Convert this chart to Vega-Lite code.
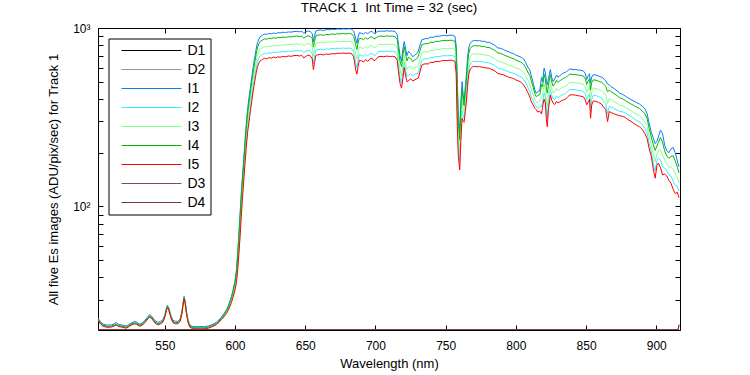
{
"$schema": "https://vega.github.io/schema/vega-lite/v6.json",
"width": 582, "height": 302,
"autosize": {"type": "none"},
"padding": {"left": 98, "top": 28, "right": 70, "bottom": 45},
"background": "white",
"title": {"text": "TRACK 1 \u00a0Int Time = 32 (sec)", "fontSize": 13.5, "font": "Liberation Sans", "fontWeight": "normal", "offset": 8, "color": "black"},
"layer": [
{
"data": {"values": [
{"w":502.4,"I1":23.7,"I2":23.1,"I3":23.2,"I4":23.3,"I5":23.0},
{"w":504,"I1":22.7,"I2":22.1,"I3":22.2,"I4":22.3,"I5":22.0},
{"w":506,"I1":21.9,"I2":21.4,"I3":21.5,"I4":21.6,"I5":21.3},
{"w":509,"I1":21.6,"I2":21.1,"I3":21.2,"I4":21.3,"I5":21.0},
{"w":512,"I1":21.7,"I2":21.2,"I3":21.3,"I4":21.4,"I5":21.1},
{"w":514,"I1":22.0,"I2":21.5,"I3":21.6,"I4":21.7,"I5":21.4},
{"w":515.5,"I1":22.4,"I2":21.7,"I3":21.8,"I4":21.9,"I5":21.6},
{"w":517,"I1":21.8,"I2":21.3,"I3":21.4,"I4":21.5,"I5":21.2},
{"w":519,"I1":21.7,"I2":21.2,"I3":21.3,"I4":21.4,"I5":21.1},
{"w":521,"I1":21.5,"I2":21.0,"I3":21.1,"I4":21.2,"I5":20.9},
{"w":522.6,"I1":21.4,"I2":20.9,"I3":21.0,"I4":21.1,"I5":20.8},
{"w":524.5,"I1":21.8,"I2":21.3,"I3":21.4,"I4":21.5,"I5":21.2},
{"w":526,"I1":22.2,"I2":21.7,"I3":21.8,"I4":21.9,"I5":21.6},
{"w":528.5,"I1":22.7,"I2":22.1,"I3":22.2,"I4":22.3,"I5":22.0},
{"w":530,"I1":22.4,"I2":21.9,"I3":22.0,"I4":22.1,"I5":21.8},
{"w":532,"I1":21.9,"I2":21.4,"I3":21.5,"I4":21.6,"I5":21.3},
{"w":534,"I1":22.2,"I2":21.7,"I3":21.8,"I4":21.9,"I5":21.6},
{"w":535.7,"I1":23.0,"I2":22.4,"I3":22.5,"I4":22.6,"I5":22.3},
{"w":537.5,"I1":23.9,"I2":23.3,"I3":23.4,"I4":23.5,"I5":23.2},
{"w":539.2,"I1":24.8,"I2":24.1,"I3":24.2,"I4":24.4,"I5":24.0},
{"w":540.5,"I1":24.3,"I2":23.7,"I3":23.8,"I4":24.0,"I5":23.6},
{"w":541.6,"I1":23.7,"I2":23.1,"I3":23.2,"I4":23.3,"I5":23.0},
{"w":543,"I1":22.9,"I2":22.3,"I3":22.4,"I4":22.5,"I5":22.2},
{"w":545,"I1":22.4,"I2":21.8,"I3":21.9,"I4":22.0,"I5":21.7},
{"w":547,"I1":22.7,"I2":22.1,"I3":22.2,"I4":22.3,"I5":22.0},
{"w":548.7,"I1":23.2,"I2":22.6,"I3":22.7,"I4":22.8,"I5":22.5},
{"w":550,"I1":24.7,"I2":24.1,"I3":24.2,"I4":24.4,"I5":24.0},
{"w":551.2,"I1":27.0,"I2":26.3,"I3":26.5,"I4":26.6,"I5":26.2},
{"w":551.8,"I1":27.9,"I2":27.2,"I3":27.4,"I4":27.5,"I5":27.1},
{"w":552.6,"I1":27.3,"I2":26.6,"I3":26.8,"I4":26.9,"I5":26.5},
{"w":553.5,"I1":25.9,"I2":25.2,"I3":25.4,"I4":25.5,"I5":25.1},
{"w":554.5,"I1":24.2,"I2":23.6,"I3":23.7,"I4":23.9,"I5":23.5},
{"w":555.8,"I1":23.0,"I2":22.4,"I3":22.5,"I4":22.6,"I5":22.3},
{"w":557.5,"I1":22.7,"I2":22.1,"I3":22.2,"I4":22.3,"I5":22.0},
{"w":559.4,"I1":22.7,"I2":22.1,"I3":22.2,"I4":22.3,"I5":22.0},
{"w":561,"I1":23.5,"I2":22.9,"I3":23.0,"I4":23.1,"I5":22.8},
{"w":562.2,"I1":25.9,"I2":25.2,"I3":25.4,"I4":25.5,"I5":25.1},
{"w":563,"I1":28.8,"I2":28.1,"I3":28.3,"I4":28.4,"I5":28.0},
{"w":563.7,"I1":31.3,"I2":30.6,"I3":30.7,"I4":30.9,"I5":30.4},
{"w":564.5,"I1":29.4,"I2":28.6,"I3":28.8,"I4":28.9,"I5":28.5},
{"w":565.4,"I1":25.9,"I2":25.2,"I3":25.4,"I4":25.5,"I5":25.1},
{"w":566.5,"I1":23.2,"I2":22.6,"I3":22.7,"I4":22.8,"I5":22.5},
{"w":567.7,"I1":21.7,"I2":21.2,"I3":21.3,"I4":21.4,"I5":21.1},
{"w":569.5,"I1":21.3,"I2":20.8,"I3":20.9,"I4":21.0,"I5":20.7},
{"w":571.3,"I1":21.2,"I2":20.7,"I3":20.8,"I4":20.9,"I5":20.6},
{"w":575,"I1":21.2,"I2":20.7,"I3":20.8,"I4":20.9,"I5":20.6},
{"w":578.4,"I1":21.2,"I2":20.7,"I3":20.8,"I4":20.9,"I5":20.6},
{"w":581,"I1":21.4,"I2":20.9,"I3":21.0,"I4":21.1,"I5":20.8},
{"w":583.2,"I1":21.7,"I2":21.2,"I3":21.3,"I4":21.4,"I5":21.1},
{"w":585,"I1":22.0,"I2":21.5,"I3":21.6,"I4":21.7,"I5":21.4},
{"w":586.7,"I1":22.5,"I2":21.9,"I3":22.0,"I4":22.1,"I5":21.8},
{"w":588.5,"I1":23.1,"I2":22.5,"I3":22.6,"I4":22.7,"I5":22.4},
{"w":590.3,"I1":24.0,"I2":23.4,"I3":23.5,"I4":23.6,"I5":23.2},
{"w":592,"I1":25.0,"I2":24.3,"I3":24.5,"I4":24.6,"I5":24.0},
{"w":593.9,"I1":26.4,"I2":25.5,"I3":25.8,"I4":26.0,"I5":25.1},
{"w":595,"I1":27.6,"I2":26.5,"I3":26.9,"I4":27.1,"I5":26.0},
{"w":596.2,"I1":29.2,"I2":27.9,"I3":28.4,"I4":28.7,"I5":27.3},
{"w":597.5,"I1":31.4,"I2":29.7,"I3":30.3,"I4":30.8,"I5":29.0},
{"w":598.6,"I1":34.0,"I2":31.8,"I3":32.6,"I4":33.3,"I5":31.0},
{"w":600,"I1":38.5,"I2":34.8,"I3":36.1,"I4":37.5,"I5":34.0},
{"w":601,"I1":44,"I2":38.7,"I3":40.5,"I4":42.6,"I5":37.5},
{"w":602,"I1":57,"I2":47.1,"I3":50.4,"I4":54.4,"I5":45},
{"w":602.8,"I1":72,"I2":58,"I3":62.6,"I4":68.3,"I5":55},
{"w":603.6,"I1":92,"I2":72.2,"I3":78.7,"I4":86.6,"I5":68},
{"w":604.4,"I1":118,"I2":92.5,"I3":101,"I4":111,"I5":87},
{"w":605.2,"I1":145,"I2":115,"I3":124,"I4":137,"I5":108},
{"w":606,"I1":175,"I2":140,"I3":151,"I4":165,"I5":132},
{"w":607,"I1":228,"I2":180,"I3":196,"I4":215,"I5":170},
{"w":608,"I1":290,"I2":228,"I3":248,"I4":273,"I5":215},
{"w":609,"I1":355,"I2":278,"I3":303,"I4":334,"I5":262},
{"w":610,"I1":410,"I2":320,"I3":349,"I4":385,"I5":300},
{"w":611,"I1":470,"I2":367,"I3":400,"I4":442,"I5":345},
{"w":612,"I1":535,"I2":418,"I3":455,"I4":503,"I5":393},
{"w":613,"I1":610,"I2":476,"I3":519,"I4":573,"I5":447},
{"w":614,"I1":680,"I2":531,"I3":578,"I4":639,"I5":500},
{"w":615,"I1":760,"I2":593,"I3":646,"I4":714,"I5":557},
{"w":616,"I1":830,"I2":648,"I3":706,"I4":780,"I5":608},
{"w":617,"I1":868,"I2":678,"I3":738,"I4":816,"I5":636},
{"w":618,"I1":895,"I2":699,"I3":761,"I4":841,"I5":656},
{"w":619.5,"I1":910,"I2":710,"I3":774,"I4":855,"I5":667},
{"w":621,"I1":925,"I2":722,"I3":787,"I4":870,"I5":676},
{"w":622.5,"I1":920,"I2":718,"I3":783,"I4":865,"I5":672},
{"w":624,"I1":932,"I2":727,"I3":793,"I4":876,"I5":682},
{"w":626,"I1":928,"I2":724,"I3":790,"I4":872,"I5":678},
{"w":627.5,"I1":938,"I2":732,"I3":798,"I4":882,"I5":688},
{"w":629,"I1":930,"I2":725,"I3":791,"I4":874,"I5":680},
{"w":630.5,"I1":942,"I2":735,"I3":802,"I4":885,"I5":690},
{"w":632,"I1":938,"I2":732,"I3":798,"I4":882,"I5":686},
{"w":634,"I1":946,"I2":738,"I3":805,"I4":889,"I5":692},
{"w":636,"I1":944,"I2":736,"I3":803,"I4":887,"I5":690},
{"w":638,"I1":950,"I2":741,"I3":808,"I4":893,"I5":697},
{"w":640,"I1":948,"I2":739,"I3":807,"I4":891,"I5":694},
{"w":642,"I1":955,"I2":745,"I3":813,"I4":898,"I5":700},
{"w":644,"I1":958,"I2":747,"I3":815,"I4":901,"I5":702},
{"w":646,"I1":952,"I2":743,"I3":810,"I4":895,"I5":697},
{"w":647.5,"I1":958,"I2":747,"I3":815,"I4":901,"I5":702},
{"w":649,"I1":935,"I2":728,"I3":795,"I4":878,"I5":680},
{"w":650.3,"I1":950,"I2":741,"I3":808,"I4":893,"I5":692},
{"w":652,"I1":962,"I2":750,"I3":819,"I4":904,"I5":705},
{"w":653.5,"I1":955,"I2":745,"I3":813,"I4":898,"I5":700},
{"w":655,"I1":930,"I2":715,"I3":784,"I4":871,"I5":670},
{"w":655.8,"I1":840,"I2":629,"I3":696,"I4":781,"I5":585},
{"w":656.6,"I1":900,"I2":685,"I3":754,"I4":841,"I5":640},
{"w":657.5,"I1":962,"I2":750,"I3":819,"I4":904,"I5":700},
{"w":659,"I1":970,"I2":757,"I3":825,"I4":912,"I5":708},
{"w":661,"I1":975,"I2":761,"I3":830,"I4":917,"I5":712},
{"w":663,"I1":968,"I2":755,"I3":824,"I4":910,"I5":706},
{"w":665,"I1":980,"I2":764,"I3":834,"I4":921,"I5":715},
{"w":667,"I1":976,"I2":761,"I3":831,"I4":917,"I5":712},
{"w":669,"I1":985,"I2":768,"I3":838,"I4":926,"I5":718},
{"w":671,"I1":980,"I2":764,"I3":834,"I4":921,"I5":716},
{"w":673,"I1":988,"I2":771,"I3":841,"I4":929,"I5":722},
{"w":675,"I1":985,"I2":768,"I3":838,"I4":926,"I5":720},
{"w":677,"I1":990,"I2":772,"I3":842,"I4":931,"I5":724},
{"w":679,"I1":986,"I2":769,"I3":839,"I4":927,"I5":720},
{"w":681,"I1":990,"I2":772,"I3":842,"I4":931,"I5":724},
{"w":683,"I1":985,"I2":768,"I3":838,"I4":926,"I5":718},
{"w":684.5,"I1":960,"I2":737,"I3":808,"I4":899,"I5":690},
{"w":686,"I1":870,"I2":629,"I3":705,"I4":802,"I5":580},
{"w":686.8,"I1":820,"I2":598,"I3":667,"I4":758,"I5":552},
{"w":687.5,"I1":880,"I2":648,"I3":721,"I4":815,"I5":600},
{"w":688.5,"I1":940,"I2":708,"I3":782,"I4":876,"I5":660},
{"w":690,"I1":935,"I2":703,"I3":777,"I4":871,"I5":655},
{"w":691.5,"I1":925,"I2":694,"I3":767,"I4":861,"I5":645},
{"w":693,"I1":945,"I2":712,"I3":787,"I4":881,"I5":665},
{"w":694.5,"I1":930,"I2":698,"I3":772,"I4":866,"I5":650},
{"w":696,"I1":950,"I2":716,"I3":791,"I4":886,"I5":670},
{"w":697.5,"I1":958,"I2":722,"I3":798,"I4":894,"I5":678},
{"w":699,"I1":930,"I2":700,"I3":774,"I4":867,"I5":655},
{"w":700.5,"I1":945,"I2":712,"I3":787,"I4":881,"I5":668},
{"w":702,"I1":958,"I2":737,"I3":808,"I4":897,"I5":690},
{"w":704,"I1":962,"I2":740,"I3":811,"I4":901,"I5":693},
{"w":706,"I1":958,"I2":737,"I3":808,"I4":897,"I5":690},
{"w":708,"I1":965,"I2":743,"I3":813,"I4":904,"I5":696},
{"w":710,"I1":960,"I2":739,"I3":809,"I4":899,"I5":692},
{"w":712,"I1":962,"I2":740,"I3":811,"I4":901,"I5":694},
{"w":714,"I1":955,"I2":736,"I3":806,"I4":894,"I5":690},
{"w":715.5,"I1":920,"I2":705,"I3":774,"I4":861,"I5":660},
{"w":716.5,"I1":800,"I2":601,"I3":665,"I4":745,"I5":560},
{"w":717.5,"I1":700,"I2":526,"I3":581,"I4":652,"I5":490},
{"w":718.6,"I1":650,"I2":492,"I3":541,"I4":607,"I5":460},
{"w":719.5,"I1":760,"I2":561,"I3":624,"I4":704,"I5":520},
{"w":720.5,"I1":840,"I2":643,"I3":705,"I4":785,"I5":600},
{"w":721.5,"I1":760,"I2":578,"I3":637,"I4":710,"I5":540},
{"w":722.5,"I1":700,"I2":535,"I3":587,"I4":654,"I5":500},
{"w":723.5,"I1":740,"I2":545,"I3":606,"I4":686,"I5":505},
{"w":725,"I1":720,"I2":554,"I3":607,"I4":674,"I5":520},
{"w":726.5,"I1":690,"I2":538,"I3":587,"I4":649,"I5":505},
{"w":728,"I1":705,"I2":550,"I3":600,"I4":662,"I5":512},
{"w":729.5,"I1":720,"I2":554,"I3":607,"I4":674,"I5":520},
{"w":730.5,"I1":740,"I2":562,"I3":619,"I4":691,"I5":524},
{"w":731.5,"I1":790,"I2":601,"I3":662,"I4":738,"I5":560},
{"w":733,"I1":860,"I2":661,"I3":724,"I4":805,"I5":620},
{"w":734.5,"I1":865,"I2":671,"I3":735,"I4":812,"I5":628},
{"w":736,"I1":875,"I2":673,"I3":737,"I4":819,"I5":630},
{"w":737.5,"I1":870,"I2":669,"I3":733,"I4":815,"I5":628},
{"w":739,"I1":890,"I2":684,"I3":749,"I4":833,"I5":642},
{"w":741,"I1":885,"I2":681,"I3":746,"I4":829,"I5":640},
{"w":743,"I1":900,"I2":692,"I3":759,"I4":843,"I5":650},
{"w":745,"I1":898,"I2":690,"I3":757,"I4":841,"I5":648},
{"w":747,"I1":905,"I2":697,"I3":764,"I4":848,"I5":655},
{"w":749,"I1":910,"I2":700,"I3":767,"I4":852,"I5":658},
{"w":751,"I1":905,"I2":698,"I3":764,"I4":848,"I5":656},
{"w":753,"I1":912,"I2":702,"I3":769,"I4":854,"I5":660},
{"w":755,"I1":910,"I2":700,"I3":767,"I4":852,"I5":658},
{"w":756.6,"I1":897,"I2":691,"I3":757,"I4":840,"I5":650},
{"w":757.5,"I1":800,"I2":601,"I3":665,"I4":745,"I5":560},
{"w":758.3,"I1":520,"I2":317,"I3":377,"I4":460,"I5":280},
{"w":759,"I1":330,"I2":216,"I3":250,"I4":297,"I5":194},
{"w":760,"I1":262,"I2":177,"I3":203,"I4":237,"I5":160},
{"w":760.8,"I1":380,"I2":254,"I3":293,"I4":344,"I5":230},
{"w":761.7,"I1":500,"I2":343,"I3":391,"I4":455,"I5":312},
{"w":762.5,"I1":420,"I2":321,"I3":353,"I4":393,"I5":300},
{"w":763.1,"I1":387,"I2":312,"I3":337,"I4":367,"I5":296},
{"w":764,"I1":470,"I2":361,"I3":396,"I4":440,"I5":340},
{"w":764.8,"I1":547,"I2":414,"I3":457,"I4":510,"I5":387},
{"w":765.6,"I1":680,"I2":506,"I3":561,"I4":632,"I5":470},
{"w":766.4,"I1":772,"I2":586,"I3":646,"I4":720,"I5":547},
{"w":767.5,"I1":820,"I2":630,"I3":690,"I4":768,"I5":590},
{"w":769,"I1":845,"I2":648,"I3":712,"I4":791,"I5":605},
{"w":770.7,"I1":852,"I2":652,"I3":717,"I4":797,"I5":609},
{"w":772.5,"I1":848,"I2":649,"I3":714,"I4":793,"I5":606},
{"w":774,"I1":850,"I2":651,"I3":715,"I4":795,"I5":608},
{"w":776,"I1":842,"I2":646,"I3":709,"I4":788,"I5":603},
{"w":777.8,"I1":841,"I2":643,"I3":707,"I4":787,"I5":600},
{"w":779.5,"I1":830,"I2":639,"I3":700,"I4":777,"I5":596},
{"w":781,"I1":832,"I2":638,"I3":700,"I4":779,"I5":595},
{"w":783,"I1":815,"I2":627,"I3":687,"I4":763,"I5":585},
{"w":785,"I1":800,"I2":616,"I3":675,"I4":749,"I5":575},
{"w":787.3,"I1":772,"I2":595,"I3":651,"I4":723,"I5":555},
{"w":789,"I1":770,"I2":591,"I3":648,"I4":721,"I5":552},
{"w":791,"I1":758,"I2":585,"I3":639,"I4":710,"I5":547},
{"w":793,"I1":745,"I2":576,"I3":628,"I4":698,"I5":538},
{"w":795,"I1":735,"I2":567,"I3":619,"I4":688,"I5":530},
{"w":796.8,"I1":724,"I2":562,"I3":612,"I4":678,"I5":525},
{"w":798.5,"I1":718,"I2":557,"I3":606,"I4":673,"I5":520},
{"w":800,"I1":705,"I2":548,"I3":598,"I4":661,"I5":512},
{"w":802,"I1":695,"I2":540,"I3":590,"I4":651,"I5":505},
{"w":803.9,"I1":685,"I2":531,"I3":581,"I4":642,"I5":495},
{"w":805.5,"I1":670,"I2":514,"I3":564,"I4":627,"I5":480},
{"w":807,"I1":640,"I2":492,"I3":540,"I4":599,"I5":460},
{"w":808.5,"I1":605,"I2":465,"I3":510,"I4":566,"I5":435},
{"w":810,"I1":580,"I2":438,"I3":484,"I4":540,"I5":410},
{"w":811,"I1":540,"I2":413,"I3":454,"I4":505,"I5":385},
{"w":812.3,"I1":495,"I2":393,"I3":426,"I4":467,"I5":371},
{"w":813.5,"I1":450,"I2":372,"I3":398,"I4":429,"I5":355},
{"w":814.6,"I1":430,"I2":363,"I3":385,"I4":412,"I5":348},
{"w":815.5,"I1":440,"I2":356,"I3":384,"I4":418,"I5":338},
{"w":817,"I1":445,"I2":360,"I3":388,"I4":422,"I5":342},
{"w":818.3,"I1":530,"I2":363,"I3":414,"I4":482,"I5":330},
{"w":819,"I1":500,"I2":384,"I3":421,"I4":468,"I5":360},
{"w":820.1,"I1":596,"I2":433,"I3":484,"I4":550,"I5":400},
{"w":821,"I1":560,"I2":411,"I3":458,"I4":518,"I5":380},
{"w":821.8,"I1":500,"I2":332,"I3":383,"I4":452,"I5":300},
{"w":822.4,"I1":480,"I2":312,"I3":363,"I4":431,"I5":280},
{"w":823.2,"I1":520,"I2":379,"I3":423,"I4":480,"I5":350},
{"w":824.6,"I1":585,"I2":450,"I3":493,"I4":548,"I5":420},
{"w":825.5,"I1":530,"I2":419,"I3":455,"I4":500,"I5":395},
{"w":826.5,"I1":500,"I2":401,"I3":434,"I4":473,"I5":380},
{"w":827.7,"I1":520,"I2":398,"I3":438,"I4":487,"I5":372},
{"w":829,"I1":545,"I2":417,"I3":458,"I4":509,"I5":388},
{"w":830,"I1":530,"I2":407,"I3":446,"I4":496,"I5":380},
{"w":831.2,"I1":540,"I2":413,"I3":454,"I4":505,"I5":385},
{"w":832.5,"I1":550,"I2":420,"I3":462,"I4":514,"I5":392},
{"w":834,"I1":560,"I2":424,"I3":468,"I4":523,"I5":395},
{"w":835.5,"I1":565,"I2":430,"I3":473,"I4":528,"I5":400},
{"w":837,"I1":578,"I2":442,"I3":486,"I4":540,"I5":412},
{"w":838.5,"I1":590,"I2":452,"I3":496,"I4":552,"I5":422},
{"w":840.7,"I1":585,"I2":452,"I3":494,"I4":548,"I5":422},
{"w":842.5,"I1":586,"I2":451,"I3":494,"I4":549,"I5":420},
{"w":844,"I1":582,"I2":448,"I3":490,"I4":545,"I5":418},
{"w":846,"I1":580,"I2":446,"I3":488,"I4":543,"I5":415},
{"w":848,"I1":575,"I2":442,"I3":484,"I4":538,"I5":412},
{"w":849.5,"I1":555,"I2":425,"I3":467,"I4":519,"I5":395},
{"w":850.4,"I1":515,"I2":396,"I3":434,"I4":482,"I5":371},
{"w":851.5,"I1":540,"I2":414,"I3":455,"I4":505,"I5":385},
{"w":852.5,"I1":555,"I2":428,"I3":468,"I4":520,"I5":400},
{"w":853.2,"I1":491,"I2":341,"I3":388,"I4":448,"I5":312},
{"w":854,"I1":530,"I2":398,"I3":441,"I4":494,"I5":370},
{"w":855.1,"I1":547,"I2":419,"I3":460,"I4":512,"I5":390},
{"w":857,"I1":545,"I2":418,"I3":458,"I4":510,"I5":388},
{"w":859,"I1":538,"I2":412,"I3":453,"I4":503,"I5":382},
{"w":861,"I1":530,"I2":405,"I3":446,"I4":496,"I5":375},
{"w":862.2,"I1":524,"I2":392,"I3":437,"I4":488,"I5":363},
{"w":864,"I1":505,"I2":377,"I3":421,"I4":470,"I5":350},
{"w":865.3,"I1":485,"I2":329,"I3":377,"I4":440,"I5":299},
{"w":866.5,"I1":480,"I2":364,"I3":403,"I4":448,"I5":340},
{"w":868,"I1":468,"I2":360,"I3":394,"I4":438,"I5":336},
{"w":870,"I1":458,"I2":354,"I3":386,"I4":429,"I5":330},
{"w":872,"I1":445,"I2":347,"I3":379,"I4":418,"I5":326},
{"w":874,"I1":431,"I2":340,"I3":368,"I4":406,"I5":322},
{"w":876,"I1":425,"I2":339,"I3":366,"I4":401,"I5":320},
{"w":878,"I1":415,"I2":334,"I3":360,"I4":393,"I5":315},
{"w":880,"I1":405,"I2":326,"I3":351,"I4":383,"I5":306},
{"w":882,"I1":397,"I2":319,"I3":344,"I4":375,"I5":300},
{"w":884,"I1":390,"I2":311,"I3":336,"I4":368,"I5":292},
{"w":886,"I1":382,"I2":303,"I3":328,"I4":360,"I5":285},
{"w":888,"I1":375,"I2":298,"I3":323,"I4":354,"I5":280},
{"w":890,"I1":365,"I2":287,"I3":311,"I4":343,"I5":270},
{"w":892,"I1":352,"I2":273,"I3":298,"I4":330,"I5":255},
{"w":893.5,"I1":330,"I2":257,"I3":281,"I4":310,"I5":240},
{"w":895,"I1":290,"I2":225,"I3":246,"I4":272,"I5":210},
{"w":896.5,"I1":260,"I2":203,"I3":221,"I4":244,"I5":190},
{"w":898,"I1":240,"I2":173,"I3":194,"I4":221,"I5":160},
{"w":899.2,"I1":225,"I2":158,"I3":178,"I4":206,"I5":144},
{"w":900.5,"I1":232,"I2":181,"I3":197,"I4":218,"I5":170},
{"w":901.5,"I1":245,"I2":187,"I3":206,"I4":229,"I5":175},
{"w":903,"I1":268,"I2":182,"I3":208,"I4":243,"I5":165},
{"w":904.5,"I1":255,"I2":167,"I3":194,"I4":229,"I5":150},
{"w":906,"I1":220,"I2":164,"I3":182,"I4":204,"I5":152},
{"w":907.5,"I1":205,"I2":158,"I3":173,"I4":192,"I5":148},
{"w":909,"I1":200,"I2":150,"I3":166,"I4":186,"I5":140},
{"w":910.5,"I1":210,"I2":148,"I3":167,"I4":191,"I5":135},
{"w":912,"I1":214,"I2":139,"I3":162,"I4":192,"I5":125},
{"w":913.5,"I1":200,"I2":131,"I3":152,"I4":180,"I5":118},
{"w":915,"I1":180,"I2":130,"I3":146,"I4":166,"I5":120},
{"w":916.2,"I1":167,"I2":122,"I3":135,"I4":154,"I5":112}
]},
"transform": [{"fold": ["I1", "I2", "I3", "I4", "I5"], "as": ["series", "value"]}],
"mark": {"type": "line", "strokeWidth": 1, "clip": true},
"encoding": {
"x": {"field": "w", "type": "quantitative", "scale": {"domain": [502.4, 916.9], "nice": false, "zero": false},
"axis": {"orient": "bottom", "values": [550, 600, 650, 700, 750, 800, 850, 900], "title": "Wavelength (nm)", "labelPadding": 15, "titlePadding": 6}},
"y": {"field": "value", "type": "quantitative", "scale": {"type": "log", "domain": [20.3, 1000], "nice": false},
"axis": {"orient": "left", "values": [30, 40, 50, 60, 70, 80, 90, 100, 200, 300, 400, 500, 600, 700, 800, 900, 1000], "labelExpr": "datum.value == 100 ? '10²' : (datum.value == 1000 ? '10³' : '')", "title": "All five Es images (ADU/pix/sec) for Track 1", "labelPadding": 13, "titlePadding": 12}},
"color": {"field": "series", "type": "nominal",
"scale": {"domain": ["D1", "D2", "I1", "I2", "I3", "I4", "I5", "D3", "D4"], "range": ["#000000", "#999999", "#0a7df5", "#33f0ff", "#88ff88", "#00bb00", "#ff0000", "#7f5050", "#7a3535"]},
"legend": {"title": null, "orient": "none", "legendX": 10.5, "legendY": 10.5, "direction": "vertical", "symbolType": "M-1,0H11", "symbolSize": 100, "symbolStrokeWidth": 1, "symbolOpacity": 1, "labelFontSize": 14, "labelFont": "Liberation Sans", "labelColor": "black", "padding": 5, "strokeColor": "black", "fillColor": "white", "rowPadding": 5, "symbolOffset": 6, "labelOffset": 54, "labelLimit": 0}}
}
},
{
"data": {"values": [
{"series": "D1", "w": 502.4, "value": 20.35}, {"series": "D1", "w": 916.2, "value": 20.35},
{"series": "D2", "w": 502.4, "value": 20.35}, {"series": "D2", "w": 916.2, "value": 20.35},
{"series": "D3", "w": 502.4, "value": 20.35}, {"series": "D3", "w": 915.5, "value": 20.35}, {"series": "D3", "w": 916.2, "value": 21.5},
{"series": "D4", "w": 502.4, "value": 20.35}, {"series": "D4", "w": 915.5, "value": 20.35}, {"series": "D4", "w": 916.2, "value": 21.8}
]},
"mark": {"type": "line", "strokeWidth": 1, "clip": true},
"encoding": {
"x": {"field": "w", "type": "quantitative", "axis": {"orient": "top", "values": [550, 600, 650, 700, 750, 800, 850, 900], "labels": false, "title": null}},
"y": {"field": "value", "type": "quantitative", "axis": {"orient": "right", "values": [30, 40, 50, 60, 70, 80, 90, 100, 200, 300, 400, 500, 600, 700, 800, 900, 1000], "labels": false, "title": null}},
"color": {"field": "series", "type": "nominal"}
}
}
],
"resolve": {"axis": {"x": "independent", "y": "independent"}},
"config": {
"view": {"stroke": "black", "strokeWidth": 1},
"axis": {"domainColor": "black", "tickColor": "black", "labelColor": "black", "titleColor": "black", "labelFont": "Liberation Sans", "titleFont": "Liberation Sans", "labelFontSize": 12, "titleFontSize": 13, "titleFontWeight": "normal", "grid": false, "tickSize": -5, "domainWidth": 1, "tickWidth": 1}
}
}
